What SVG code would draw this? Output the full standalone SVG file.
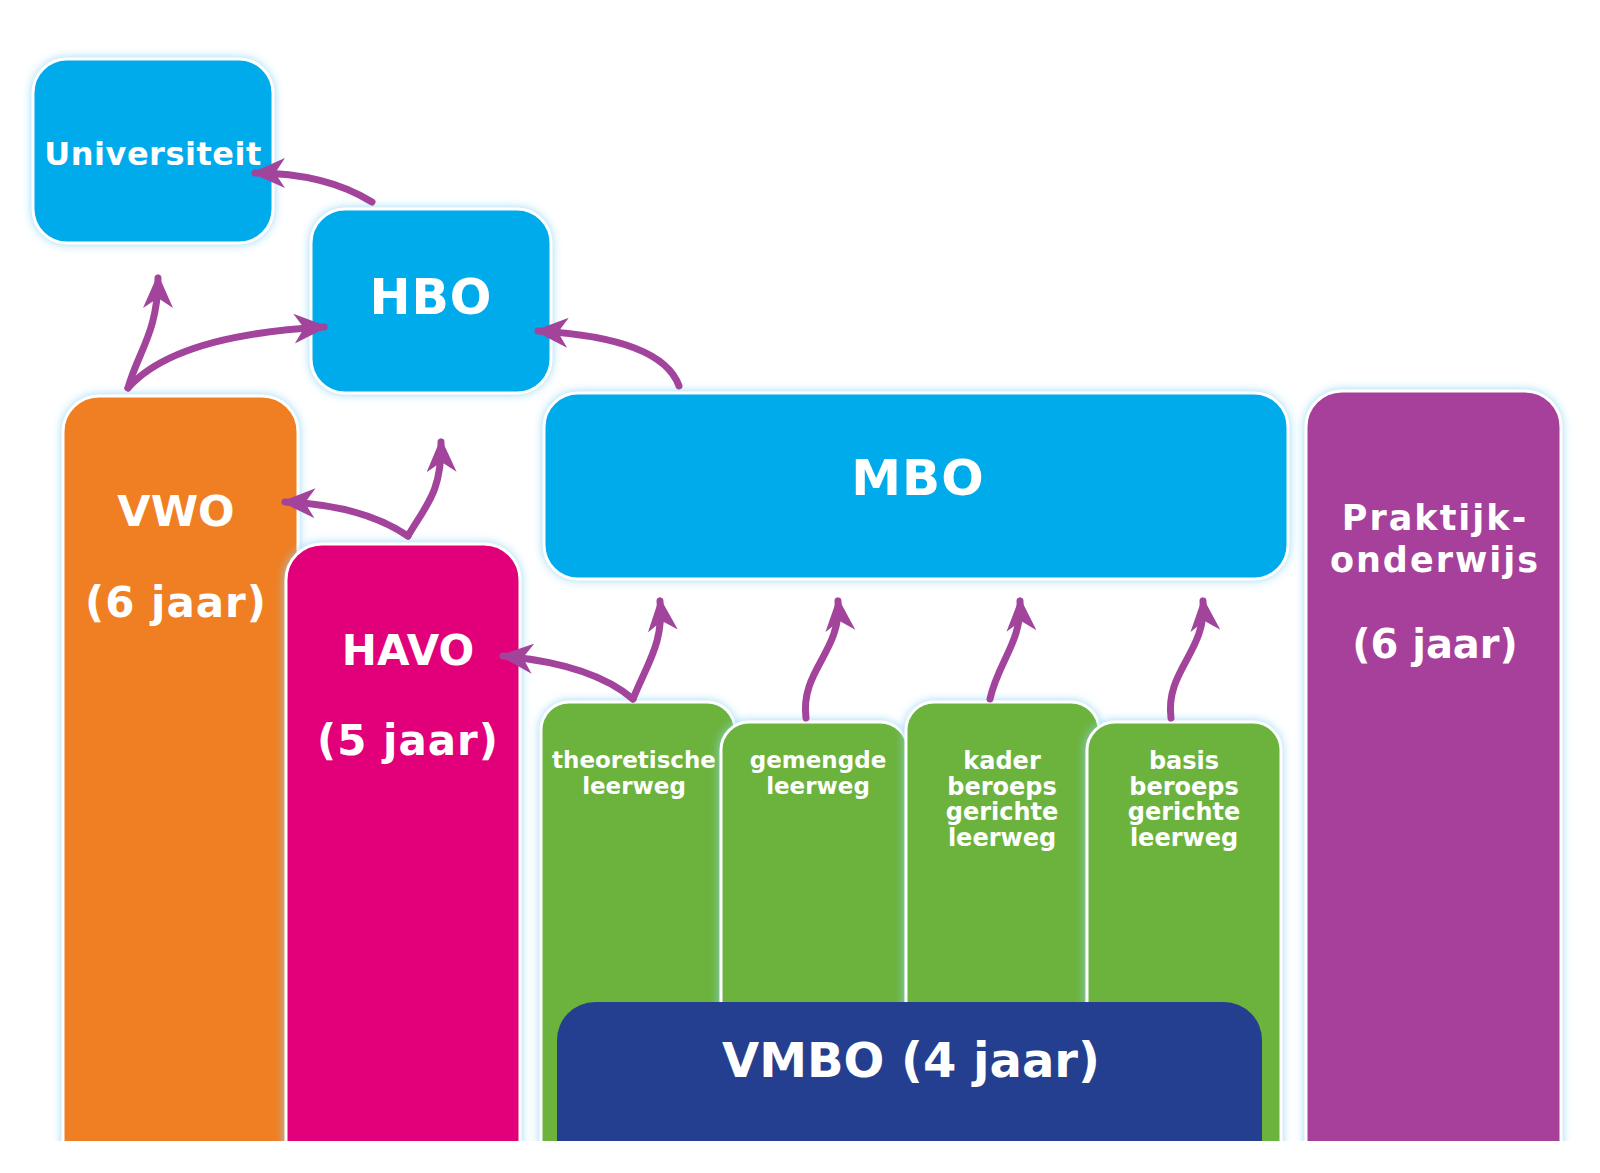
<svg xmlns="http://www.w3.org/2000/svg" width="1600" height="1173" viewBox="0 0 1600 1173">
<style>
.box{stroke:#ffffff;stroke-width:3;filter:url(#glow)}
.t{font-family:"DejaVu Sans","Liberation Sans",sans-serif;font-weight:bold;fill:#ffffff;text-anchor:middle}
.blue{fill:#00abeb}
.conn{fill:none;stroke:#a2449c;stroke-width:7;stroke-linecap:round;marker-end:url(#ah)}
.g{fill:#6cb33e}
</style>
<defs>
<filter id="glow" x="-20%" y="-20%" width="140%" height="140%">
<feDropShadow dx="0" dy="0" stdDeviation="5" flood-color="#8fd6f3" flood-opacity="0.9"/>
</filter>
<marker id="ah" markerUnits="userSpaceOnUse" markerWidth="40" markerHeight="32" refX="30" refY="15" orient="auto">
<path d="M0,0 L34,15 L0,30 L10,15 z" fill="#a2449c"/>
</marker>
<clipPath id="cut"><rect x="0" y="0" width="1600" height="1141"/></clipPath>
</defs>
<rect width="1600" height="1173" fill="#ffffff"/>
<g clip-path="url(#cut)">
<g id="universiteit">
<rect class="box blue" x="33" y="59" width="240" height="184" rx="34"/>
<text class="t" x="153" y="165" font-size="32" letter-spacing="0.5">Universiteit</text>
</g>
<g id="hbo">
<rect class="box blue" x="311" y="209" width="240" height="184" rx="34"/>
<text class="t" x="431" y="314" font-size="49" letter-spacing="1">HBO</text>
</g>
<g id="vwo">
<path class="box" fill="#f07e23" d="M63,1160 V432 A36,36 0 0 1 99,396 H262 A36,36 0 0 1 298,432 V1160 Z"/>
<text class="t" x="176" y="526" font-size="43">VWO</text>
<text class="t" x="176" y="617" font-size="42" letter-spacing="1">(6 jaar)</text>
</g>
<g id="havo">
<path class="box" fill="#e2007a" d="M286,1160 V580 A36,36 0 0 1 322,544 H484 A36,36 0 0 1 520,580 V1160 Z"/>
<text class="t" x="408" y="665" font-size="42">HAVO</text>
<text class="t" x="408" y="755" font-size="42" letter-spacing="1">(5 jaar)</text>
</g>
<g id="mbo">
<rect class="box blue" x="544" y="393" width="744" height="186" rx="34"/>
<text class="t" x="918" y="495" font-size="50" letter-spacing="1">MBO</text>
</g>
<g id="praktijkonderwijs">
<path class="box" fill="#a6419b" d="M1306,1160 V427 A36,36 0 0 1 1342,391 H1525 A36,36 0 0 1 1561,427 V1160 Z"/>
<text class="t" x="1435" y="530" font-size="35" letter-spacing="2">Praktijk-</text>
<text class="t" x="1435" y="572" font-size="35" letter-spacing="2">onderwijs</text>
<text class="t" x="1435" y="658" font-size="40">(6 jaar)</text>
</g>
<g id="theoretische-leerweg">
<path class="box g" d="M541,1160 V730 A28,28 0 0 1 569,702 H707 A28,28 0 0 1 735,730 V1160 Z"/>
<text class="t" x="634" y="768" font-size="23">theoretische</text>
<text class="t" x="634" y="794" font-size="23">leerweg</text>
</g>
<g id="gemengde-leerweg">
<path class="box g" d="M721,1160 V750 A28,28 0 0 1 749,722 H880 A28,28 0 0 1 908,750 V1160 Z"/>
<text class="t" x="818" y="768" font-size="23">gemengde</text>
<text class="t" x="818" y="794" font-size="23">leerweg</text>
</g>
<g id="kader-beroepsgerichte-leerweg">
<path class="box g" d="M906,1160 V730 A28,28 0 0 1 934,702 H1071 A28,28 0 0 1 1099,730 V1160 Z"/>
<text class="t" x="1002" y="769" font-size="24">kader</text>
<text class="t" x="1002" y="795" font-size="24">beroeps</text>
<text class="t" x="1002" y="820" font-size="24">gerichte</text>
<text class="t" x="1002" y="846" font-size="24">leerweg</text>
</g>
<g id="basis-beroepsgerichte-leerweg">
<path class="box g" d="M1087,1160 V750 A28,28 0 0 1 1115,722 H1253 A28,28 0 0 1 1281,750 V1160 Z"/>
<text class="t" x="1184" y="769" font-size="24">basis</text>
<text class="t" x="1184" y="795" font-size="24">beroeps</text>
<text class="t" x="1184" y="820" font-size="24">gerichte</text>
<text class="t" x="1184" y="846" font-size="24">leerweg</text>
</g>
<g id="vmbo">
<path fill="#243f8f" d="M557,1160 V1040 A38,38 0 0 1 595,1002 H1224 A38,38 0 0 1 1262,1040 V1160 Z"/>
<text class="t" x="911" y="1077" font-size="48">VMBO (4 jaar)</text>
</g>
</g>
<g id="connectors">
<path class="conn" d="M372,202 Q325,173 255,173"/>
<path class="conn" d="M128,388 C138,352 158,332 158,278"/>
<path class="conn" d="M128,388 Q175,335 324,327"/>
<path class="conn" d="M679,386 Q662,338 538,331"/>
<path class="conn" d="M408,536 Q362,505 285,502"/>
<path class="conn" d="M408,536 C426,505 442,492 441,442"/>
<path class="conn" d="M633,699 Q592,664 503,656"/>
<path class="conn" d="M633,699 C648,662 664,642 660,601"/>
<path class="conn" d="M806,718 C800,670 842,652 838,601"/>
<path class="conn" d="M990,699 C998,662 1022,642 1020,601"/>
<path class="conn" d="M1171,718 C1165,670 1207,652 1203,601"/>
</g>
</svg>
